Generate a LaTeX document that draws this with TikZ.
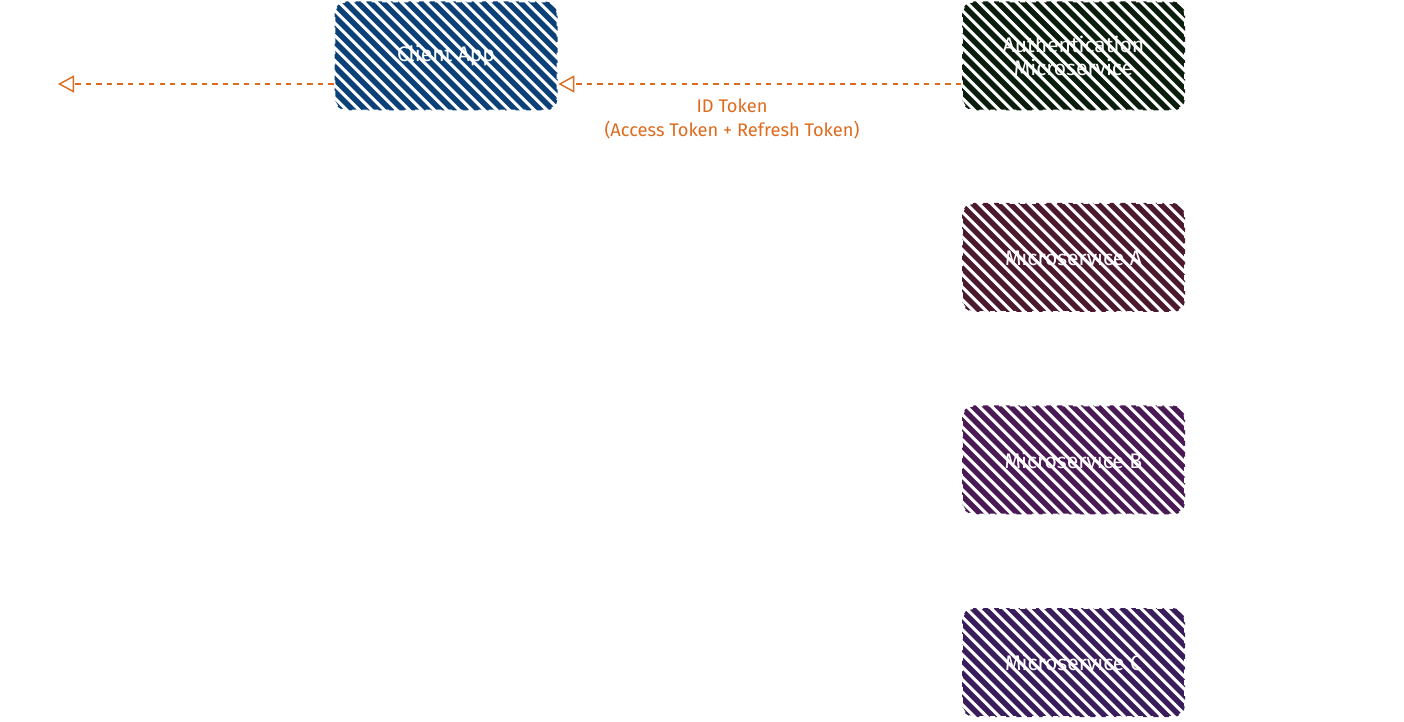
\documentclass[tikz,border=0pt]{standalone}
\usepackage{fontspec}
\setmainfont{Fira Sans}
\usetikzlibrary{arrows.meta}

\definecolor{tokenorange}{HTML}{DD6B1E}
\definecolor{clientblue}{HTML}{0B4177}
\definecolor{authgreen}{HTML}{0B1E0D}
\definecolor{svcA}{HTML}{4B1A2E}
\definecolor{svcB}{HTML}{4A1A55}
\definecolor{svcC}{HTML}{3A1E5C}

\begin{document}
\begin{tikzpicture}[
    svcbox/.style={rectangle, rounded corners=0.24cm, minimum width=4.46cm, minimum height=2.18cm,
        draw=white, dashed, line width=1pt, text=white, align=center,
        font=\fontsize{12pt}{13.5pt}\selectfont,
        path picture={
            \foreach \k in {-2.4,-2.15,...,4.7}
                \draw[#1, solid, line width=0.11cm]
                    (path picture bounding box.north west) ++(\k,0.1) -- ++(2.5,-2.5);
        }},
    tokenline/.style={draw=tokenorange, dashed, line width=0.8pt,
        -{Triangle[open, length=0.32cm, width=0.34cm]}}
    ]
        \useasboundingbox (0,0) rectangle (28.08,-14.44);

        \node[svcbox=clientblue] (client) at (8.92,-1.12) {Client App};
        \node[svcbox=authgreen] (auth) at (21.47,-1.12) {Authentication\\Microservice};
        \node[svcbox=svcA] (msa) at (21.47,-5.15) {Microservice A};
        \node[svcbox=svcB] (msb) at (21.47,-9.20) {Microservice B};
        \node[svcbox=svcC] (msc) at (21.47,-13.25) {Microservice C};

        \coordinate (user) at (1.16,-1.68);

        \draw[tokenline] (auth.west |- 0,-1.68) -- (client.east |- 0,-1.68);
        \draw[tokenline] (client.west |- 0,-1.68) -- (user);

        \node[text=tokenorange, align=center, font=\fontsize{10.4pt}{13.5pt}\selectfont] (idtok)
            at (14.64,-2.38) {ID Token\\(Access Token + Refresh Token)};
    \end{tikzpicture}
\end{document}
